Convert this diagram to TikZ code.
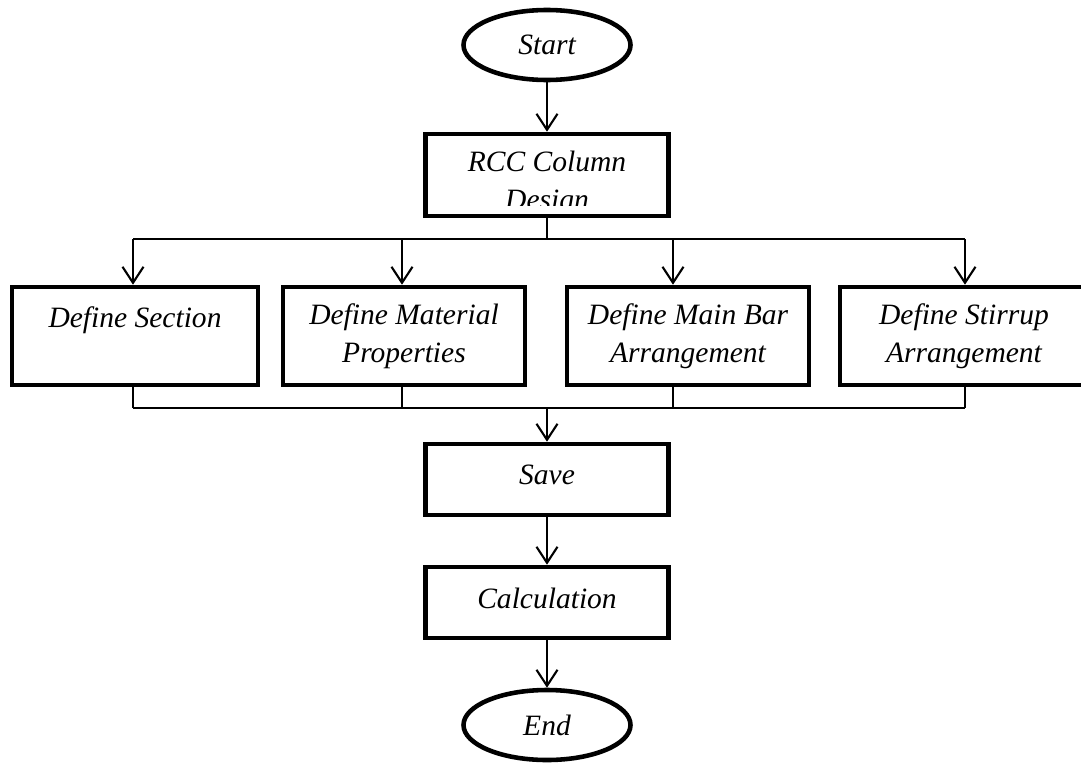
\documentclass[tikz,border=0pt]{standalone}
\usepackage{fontspec}
\setmainfont{Liberation Serif}
\usetikzlibrary{arrows.meta,shapes.geometric}

\begin{document}
\begin{tikzpicture}[x=0.2mm, y=-0.2mm,
	box/.style={draw, line width=2.6pt, align=center, inner sep=2pt, font=\fontsize{16.8}{21.5}\selectfont\itshape},
	term/.style={box, ellipse, minimum width=33.4mm, minimum height=14mm},
	link/.style={line width=1.2pt},
	arr/.style={link, -{Straight Barb[length=3.2mm, width=4.2mm, line width=1.2pt]}}]
	\useasboundingbox (0,0) rectangle (1081,763);
	\clip (0,0) rectangle (1081,763);
	\node[term] (start) at (547,45) {Start};
	\node[box, minimum width=48.6mm, minimum height=16.4mm] (rcc) at (547,175) {};
	% text is cut off by the box in the original
	\begin{scope}
		\clip (425,134) rectangle (668,205);
		\node[box, draw=none] (rcctext) at (547,183.5) {RCC Column\\Design};
	\end{scope}
	\node[box, minimum width=49.2mm, minimum height=19.6mm] (sec) at (135,336) {Define Section\\\mbox{}};
	\node[box, minimum width=48.4mm, minimum height=19.6mm] (mat) at (404,336) {Define Material\\Properties};
	\node[box, minimum width=48.4mm, minimum height=19.6mm] (bar) at (688,336) {Define Main Bar\\Arrangement};
	\node[box, minimum width=49.6mm, minimum height=19.6mm] (stir) at (964,336) {Define Stirrup\\Arrangement};
	\node[box, minimum width=48.6mm, minimum height=14.2mm, text depth=5pt] (save) at (547,479.5) {Save};
	\node[box, minimum width=48.6mm, minimum height=14.2mm, text depth=5pt] (calc) at (547,602.5) {Calculation};
	\node[term] (end) at (547,725) {End};
	\coordinate (split) at (547,239);
	\coordinate (join) at (547,408);
	\draw[arr] (start) -- (rcc);
	\draw[link] (rcc) -- (split);
	\foreach \n/\x in {sec/133, mat/402, bar/673, stir/965} {
		\coordinate (\n-in) at (\x,239);
		\coordinate (\n-out) at (\x,408);
		\draw[arr] (\n-in) -- (\n-in |- \n.north);
		\draw[link] (\n-out |- \n.south) -- (\n-out);
	}
	\draw[link] (sec-in) -- (stir-in);
	\draw[link] (sec-out) -- (stir-out);
	\draw[arr] (join) -- (save);
	\draw[arr] (save) -- (calc);
	\draw[arr] (calc) -- (end);
\end{tikzpicture}
\end{document}
